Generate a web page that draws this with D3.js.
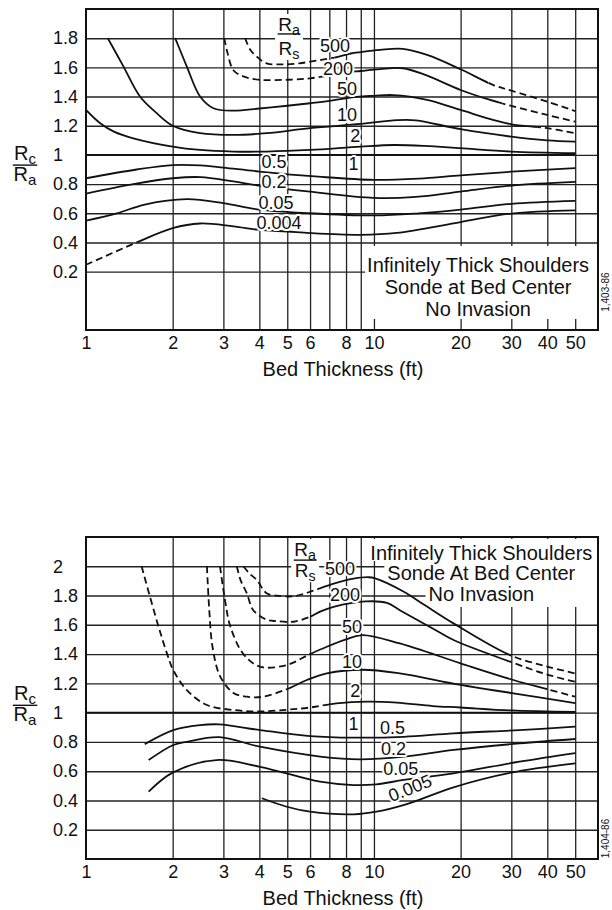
<!DOCTYPE html>
<html>
<head>
<meta charset="utf-8">
<script src="https://cdn.jsdelivr.net/npm/d3@7"></script>
<style>
  body { margin: 0; background: #fff; }
  svg { display: block; font-family: Arial, "Liberation Sans", Helvetica, sans-serif; }
</style>
</head>
<body>
<svg width="612" height="910"></svg>
<script>
// ---------- values ----------
const xTickValues = [1, 2, 3, 4, 5, 6, 8, 10, 20, 30, 40, 50];
const xGridValues = [2, 3, 4, 5, 6, 7, 8, 9, 10, 20, 30, 40, 50];
const topYTicks = [0.2, 0.4, 0.6, 0.8, 1, 1.2, 1.4, 1.6, 1.8];
const bottomYTicks = [0.2, 0.4, 0.6, 0.8, 1, 1.2, 1.4, 1.6, 1.8, 2];
const topRatios = ["500", "200", "50", "10", "2", "1", "0.5", "0.2", "0.05", "0.004"];
const bottomRatios = ["500", "200", "50", "10", "2", "1", "0.5", "0.2", "0.05", "0.005"];
const topNote = ["Infinitely Thick Shoulders", "Sonde at Bed Center", "No Invasion"];
const bottomNote = ["Infinitely Thick Shoulders", "Sonde At Bed Center", "No Invasion"];

// top chart  [bed thickness ft, Rc/Ra]
const top500 = [[3.57,1.80],[3.72,1.72],[3.92,1.673],[4.24,1.628],[4.8,1.62],[5.5,1.628],[6.5,1.65],[7.5,1.672],[8.3,1.695],[9,1.705],[10.5,1.72],[12.6,1.727],[15.3,1.685],[20,1.587],[25.9,1.48],[30,1.44],[40,1.365],[50,1.30]];
const top200 = [[3.02,1.80],[3.1,1.70],[3.25,1.58],[3.5,1.54],[4,1.515],[5,1.515],[6,1.525],[7,1.545],[8,1.565],[9,1.575],[10.5,1.588],[12.6,1.594],[15,1.55],[20,1.445],[25,1.38],[30,1.336],[40,1.274],[50,1.228]];
const top50 = [[2.04,1.80],[2.14,1.70],[2.24,1.605],[2.49,1.40],[2.77,1.32],[3.25,1.303],[4,1.318],[5,1.337],[6,1.354],[7,1.37],[8.7,1.398],[10,1.405],[11.7,1.41],[15.3,1.377],[20,1.308],[25.9,1.24],[30,1.21],[40,1.183],[50,1.149]];
const top10 = [[1.19,1.80],[1.27,1.70],[1.35,1.605],[1.54,1.40],[1.76,1.286],[2,1.20],[2.49,1.149],[3.25,1.137],[4.24,1.149],[6,1.183],[9,1.212],[12,1.238],[14,1.237],[20,1.176],[30,1.125],[40,1.10],[50,1.091]];
const top2 = [[1,1.308],[1.12,1.217],[1.25,1.16],[1.46,1.114],[2,1.057],[2.49,1.034],[3.25,1.023],[4.24,1.023],[6,1.034],[9,1.057],[11.7,1.068],[15,1.062],[20,1.046],[30,1.023],[50,1.012]];
const top1 = [[1,1],[50,1]];
const top05 = [[1,0.84],[1.5,0.90],[2,0.93],[2.5,0.928],[3,0.913],[4,0.886],[6.4,0.851],[10,0.829],[14.3,0.838],[20,0.86],[30,0.885],[50,0.909]];
const top02 = [[1,0.735],[1.46,0.80],[2,0.84],[2.5,0.848],[3.25,0.818],[4,0.79],[6,0.748],[10,0.705],[14,0.712],[20,0.749],[30,0.79],[50,0.815]];
const top005 = [[1,0.55],[1.28,0.60],[1.6,0.66],[2.24,0.697],[3,0.67],[4,0.625],[6,0.60],[10,0.585],[14.3,0.60],[20,0.625],[30,0.665],[50,0.685]];
const top0004 = [[1,0.247],[1.46,0.39],[2,0.498],[2.49,0.53],[3.25,0.51],[4,0.486],[5,0.475],[6,0.464],[9,0.452],[12,0.465],[20,0.54],[30,0.598],[50,0.62]];

// bottom chart
const bot500 = [[3.52,2.0],[3.7,1.95],[3.92,1.906],[4.24,1.815],[4.6,1.80],[5.25,1.795],[6,1.826],[7.2,1.88],[8.5,1.915],[9.6,1.925],[10.1,1.917],[12.7,1.826],[15,1.735],[18.9,1.61],[29.7,1.393],[40,1.315],[50,1.268]];
const bot200 = [[3.34,2.0],[3.45,1.90],[3.62,1.815],[3.81,1.70],[4.24,1.635],[4.6,1.625],[5.25,1.621],[6,1.655],[6.5,1.69],[7.24,1.723],[9.4,1.76],[11.1,1.75],[12.3,1.70],[16,1.575],[18.9,1.496],[29.7,1.348],[40,1.26],[50,1.211]];
const bot50 = [[2.92,2.0],[3.05,1.75],[3.17,1.59],[3.52,1.40],[4.02,1.314],[4.98,1.325],[6,1.40],[6.86,1.45],[8,1.50],[9.1,1.53],[12.3,1.473],[20,1.337],[30.5,1.223],[40,1.16],[50,1.109]];
const bot10 = [[2.63,2.0],[2.68,1.70],[2.75,1.45],[2.92,1.25],[3.25,1.135],[3.62,1.109],[4.13,1.109],[4.98,1.16],[5.85,1.223],[6.86,1.268],[9.1,1.293],[12.3,1.268],[20,1.189],[30.5,1.132],[50,1.065]];
const bot2 = [[1.56,2.0],[1.76,1.63],[1.91,1.405],[2.01,1.29],[2.24,1.154],[2.63,1.052],[3.25,1.018],[4.02,1.008],[5,1.02],[6,1.035],[7.4,1.063],[9.5,1.075],[12,1.068],[16,1.045],[20,1.035],[30,1.015],[50,1.005]];
const bot1 = [[1,1],[50,1]];
const bot05 = [[1.6,0.785],[2.01,0.881],[2.49,0.915],[2.9,0.92],[4.02,0.881],[6,0.84],[8.5,0.829],[12.7,0.835],[18.9,0.859],[32,0.881],[50,0.904]];
const bot02 = [[1.65,0.676],[2.01,0.779],[2.24,0.801],[2.9,0.832],[4.02,0.767],[6.5,0.70],[8.95,0.681],[12.7,0.699],[18.9,0.745],[32,0.79],[50,0.82]];
const bot005 = [[1.65,0.46],[2.0,0.59],[2.84,0.676],[4.02,0.63],[6.5,0.528],[8.5,0.505],[10.2,0.51],[12.7,0.54],[18.9,0.585],[32,0.665],[50,0.724]];
const bot0005 = [[4.08,0.415],[4.98,0.357],[6,0.323],[8.5,0.305],[10.2,0.323],[13,0.375],[18.9,0.49],[30,0.59],[50,0.653]];

// ---------- layout / styling of each chart ----------
const charts = [
  {
    id: "top", yDomain: [-0.2, 2.0], yRange: [330, 9], yTicks: topYTicks,
    ratios: topRatios, note: topNote, noteX: 23, noteY: [0.1975, 0.047, -0.104], noteMode: "block",
    headX: 5.07, headY: [1.849, 1.829, 1.685], ylabelY: 0.93, code: "1,403-86", codeY: 0.06,
    curves: [
      { pts: top500, at: [7.33, 1.705], dashBelow: 7.3, dashAbove: 25 },
      { pts: top200, at: [7.51, 1.548], dashBelow: 7.5, dashAbove: 28 },
      { pts: top50, at: [8.07, 1.411], dashAbove: 37 },
      { pts: top10, at: [8.07, 1.233] },
      { pts: top2, at: [8.61, 1.089] },
      { pts: top1, at: [8.5, 0.897] },
      { pts: top05, at: [4.5, 0.911] },
      { pts: top02, at: [4.5, 0.774] },
      { pts: top005, at: [4.57, 0.63] },
      { pts: top0004, at: [4.68, 0.493], dashBelow: 1.5 }
    ]
  },
  {
    id: "bot", yDomain: [0, 2.2], yRange: [859, 537], yTicks: bottomYTicks,
    ratios: bottomRatios, note: bottomNote, noteX: 23.6, noteY: [2.043, 1.906, 1.763], noteMode: "lines",
    headX: 5.77, headY: [2.07, 2.042, 1.925], ylabelY: 1.05, code: "1,404-86", codeY: 0.14,
    curves: [
      { pts: bot500, at: [7.63, 1.94], dashBelow: 6.5, dashAbove: 30 },
      { pts: bot200, at: [7.94, 1.762], dashBelow: 6, dashAbove: 30 },
      { pts: bot50, at: [8.4, 1.544], dashBelow: 6, dashAbove: 40 },
      { pts: bot10, at: [8.4, 1.305], dashBelow: 5 },
      { pts: bot2, at: [8.61, 1.107], dashBelow: 7 },
      { pts: bot1, at: [8.5, 0.881] },
      { pts: bot05, at: [11.6, 0.854] },
      { pts: bot02, at: [11.7, 0.71] },
      { pts: bot005, at: [12.4, 0.574] },
      { pts: bot0005, at: [13.6, 0.445], angle: -22 }
    ]
  }
];

const svg = d3.select("svg");
const defs = svg.append("defs");
const ink = "#111";

function fraction(g, cx, ys, sub1, sub2, size) {
  // R with subscript over R with subscript
  const t1 = g.append("text").attr("x", cx).attr("y", ys[0]).attr("text-anchor", "middle")
    .attr("font-size", size).attr("fill", ink);
  t1.append("tspan").text("R");
  t1.append("tspan").attr("font-size", size * 0.75).attr("dy", 4).text(sub1);
  const t2 = g.append("text").attr("x", cx).attr("y", ys[2]).attr("text-anchor", "middle")
    .attr("font-size", size).attr("fill", ink);
  t2.append("tspan").text("R");
  t2.append("tspan").attr("font-size", size * 0.75).attr("dy", 4).text(sub2);
  const w = Math.max(t1.node().getBBox().width, t2.node().getBBox().width) + 1;
  g.append("line").attr("x1", cx - w / 2).attr("x2", cx + w / 2)
    .attr("y1", ys[1]).attr("y2", ys[1]).attr("stroke", ink).attr("stroke-width", 1.4);
}

function drawChart(cfg) {
  const x = d3.scaleLog().domain([1, 60]).range([86, 598]);
  const y = d3.scaleLinear().domain(cfg.yDomain).range(cfg.yRange);
  const [x0, x1] = x.range();
  const [yb, yt] = y.range();
  const g = svg.append("g");

  //==== grid ====
  g.append("g").attr("transform", `translate(0,${yb})`)
    .call(d3.axisBottom(x).tickValues(xGridValues).tickSize(-(yb - yt)).tickFormat(""))
    .call(a => a.select(".domain").remove())
    .selectAll("line").attr("stroke", "#222").attr("stroke-width", 1.3);
  g.append("g").attr("transform", `translate(${x0},0)`)
    .call(d3.axisLeft(y).tickValues(cfg.yTicks).tickSize(-(x1 - x0)).tickFormat(""))
    .call(a => a.select(".domain").remove())
    .selectAll("line").attr("stroke", "#222").attr("stroke-width", 1.4);

  //==== note block on white ====
  const noteG = g.append("g");
  const noteText = noteG.append("g").attr("font-size", 20).attr("fill", ink).attr("text-anchor", "middle");
  cfg.note.forEach((t, i) => noteText.append("text").attr("x", x(cfg.noteX)).attr("y", y(cfg.noteY[i])).text(t));
  const boxes = noteText.selectAll("text").nodes().map(n => n.getBBox());
  if (cfg.noteMode === "block") {
    const bx = d3.min(boxes, b => b.x) - 2, by = d3.min(boxes, b => b.y) - 8;
    const bb = d3.max(boxes, b => b.y + b.height) - 1;
    noteG.insert("rect", "g").attr("x", bx).attr("y", by).attr("width", x1 - bx).attr("height", bb - by).attr("fill", "#fff");
  } else {
    boxes.forEach((b, i) => {
      const top = i === 0 ? yt + 2 : boxes[i - 1].y + boxes[i - 1].height - 3;
      const bot = b.y + b.height - (i === boxes.length - 1 ? -2 : 3);
      noteG.insert("rect", "g").attr("x", b.x - 3).attr("y", top).attr("width", x1 - b.x + 3).attr("height", bot - top).attr("fill", "#fff");
    });
  }

  //==== frame ====
  g.append("rect").attr("x", x0).attr("y", yt).attr("width", x1 - x0).attr("height", yb - yt)
    .attr("fill", "none").attr("stroke", ink).attr("stroke-width", 2);

  //==== curves ====
  const line = d3.line().x(d => x(d[0])).y(d => y(d[1])).curve(d3.curveCatmullRom.alpha(0.5));
  cfg.curves.forEach((c, i) => {
    const id = `${cfg.id}-c${i}`;
    const a = c.dashBelow ? x(c.dashBelow) : x0;
    const b = c.dashAbove ? x(c.dashAbove) : x1;
    defs.append("clipPath").attr("id", id + "s").append("rect")
      .attr("x", a).attr("y", 0).attr("width", b - a).attr("height", 910);
    const dc = defs.append("clipPath").attr("id", id + "d");
    dc.append("rect").attr("x", 0).attr("y", 0).attr("width", a).attr("height", 910);
    dc.append("rect").attr("x", b).attr("y", 0).attr("width", 612 - b).attr("height", 910);
    g.append("path").datum(c.pts).attr("d", line).attr("fill", "none")
      .attr("stroke", ink).attr("stroke-width", 1.8).attr("clip-path", `url(#${id}s)`);
    g.append("path").datum(c.pts).attr("d", line).attr("fill", "none")
      .attr("stroke", ink).attr("stroke-width", 1.8).attr("stroke-dasharray", "7,4")
      .attr("clip-path", `url(#${id}d)`);
  });

  //==== curve labels ====
  cfg.curves.forEach((c, i) => {
    const px = x(c.at[0]), py = y(c.at[1]);
    const t = g.append("text").attr("x", px).attr("y", py).attr("text-anchor", "middle")
      .attr("font-size", 18).attr("fill", ink)
      .attr("stroke", "#fff").attr("stroke-width", 4).attr("stroke-linejoin", "round")
      .attr("paint-order", "stroke").text(cfg.ratios[i]);
    if (c.angle) t.attr("transform", `rotate(${c.angle},${px},${py})`);
  });

  //==== Ra/Rs heading ====
  const head = g.append("g");
  head.append("rect").attr("x", x(cfg.headX) - 14).attr("y", y(cfg.headY[0]) - 17)
    .attr("width", 28).attr("height", y(cfg.headY[2]) - y(cfg.headY[0]) + 22).attr("fill", "#fff");
  fraction(head, x(cfg.headX), cfg.headY.map(y), "a", "s", 19);

  //==== axes ====
  g.append("g").attr("transform", `translate(0,${yb})`)
    .call(d3.axisBottom(x).tickValues(xTickValues).tickFormat(d3.format("d")).tickSize(0).tickPadding(6))
    .call(a => {
      a.select(".domain").remove();
      a.attr("font-size", 18).attr("font-family", null);
      a.selectAll("text").attr("fill", ink);
    });
  g.append("g").attr("transform", `translate(${x0},0)`)
    .call(d3.axisLeft(y).tickValues(cfg.yTicks).tickFormat(d => d % 1 === 0 ? String(d) : d.toFixed(1)).tickSize(0))
    .call(a => {
      a.select(".domain").remove();
      a.attr("font-size", 18).attr("font-family", null);
      a.selectAll("text").attr("fill", ink).attr("x", 53 - x0).attr("text-anchor", "start");
    });

  g.append("text").attr("x", (x0 + x1) / 2 + 1).attr("y", yb + 46).attr("text-anchor", "middle")
    .attr("font-size", 20).attr("fill", ink).text("Bed Thickness (ft)");

  fraction(g, 25, [y(cfg.ylabelY) - 5, y(cfg.ylabelY), y(cfg.ylabelY) + 16], "c", "a", 20);

  g.append("text").attr("transform", `translate(609,${y(cfg.codeY)}) rotate(-90)`)
    .attr("text-anchor", "middle").attr("font-size", 10).attr("fill", ink).text(cfg.code);
}

charts.forEach(drawChart);
</script>
</body>
</html>
